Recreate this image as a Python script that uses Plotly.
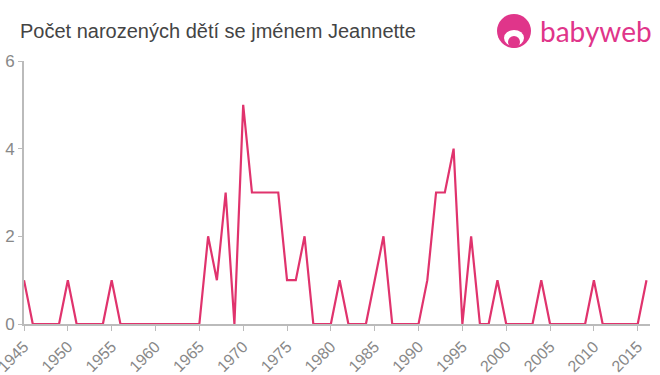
import plotly.graph_objects as go

years = list(range(1945, 2017))
counts = [1, 0, 0, 0, 0, 1, 0, 0, 0, 0,   # 1945-1954
          1, 0, 0, 0, 0, 0, 0, 0, 0, 0,   # 1955-1964
          0, 2, 1, 3, 0, 5, 3, 3, 3, 3,   # 1965-1974
          1, 1, 2, 0, 0, 0, 1, 0, 0, 0,   # 1975-1984
          1, 2, 0, 0, 0, 0, 1, 3, 3, 4,   # 1985-1994
          0, 2, 0, 0, 1, 0, 0, 0, 0, 1,   # 1995-2004
          0, 0, 0, 0, 0, 1, 0, 0, 0, 0,   # 2005-2014
          0, 1]                            # 2015-2016
tick_vals = list(range(1945, 2016, 5))
y_ticks = [0, 2, 4, 6]
title = "Počet narozených dětí se jménem Jeannette"

fig = go.Figure()
fig.add_trace(go.Scatter(x=years, y=counts, mode="lines",
                         line=dict(color="#e0336d", width=2.2),
                         hoverinfo="x+y", cliponaxis=False))

fig.update_layout(
    width=660, height=375,
    margin=dict(l=24, r=10, t=61, b=51, autoexpand=False),
    paper_bgcolor="white", plot_bgcolor="white",
    showlegend=False,
    font=dict(family="Liberation Sans, Arial, sans-serif"),
    title=dict(text=title, xref="container", x=20/660, xanchor="left",
               yref="container", y=1-31/375, yanchor="middle",
               pad=dict(l=0, r=0, t=0, b=0),
               font=dict(size=20, color="#444444")),
    xaxis=dict(range=[1945, 2016.4], tickvals=tick_vals, tickangle=-45,
               showgrid=False, zeroline=False, automargin=False,
               ticklabeloverflow="allow",
               showline=True, linecolor="#bbbbbb", linewidth=2,
               ticks="outside", ticklen=5, tickcolor="#bbbbbb", tickwidth=1,
               tickfont=dict(size=16, color="#888888")),
    yaxis=dict(range=[0, 6], tickvals=y_ticks,
               showgrid=False, zeroline=False, automargin=False,
               showline=True, linecolor="#bbbbbb", linewidth=2,
               ticks="outside", ticklen=4, tickcolor="#bbbbbb", tickwidth=1,
               tickfont=dict(size=17, color="#888888")),
)

# logo
pink = "#e0358a"
fig.add_shape(type="circle", xref="paper", yref="paper",
              x0=(497-24)/626, x1=(531-24)/626,
              y0=(324-48)/263, y1=(324-14)/263,
              fillcolor=pink, line=dict(width=0), layer="above")
fig.add_shape(type="circle", xref="paper", yref="paper",
              x0=(504-24)/626, x1=(524-24)/626,
              y0=(324-46)/263, y1=(324-30)/263,
              fillcolor="white", line=dict(width=0), layer="above")
fig.add_shape(type="circle", xref="paper", yref="paper",
              x0=(508-24)/626, x1=(520-24)/626,
              y0=(324-48)/263, y1=(324-36)/263,
              fillcolor=pink, line=dict(width=0), layer="above")
fig.add_annotation(text="babyweb", xref="paper", yref="paper",
                   x=(538-24)/626, y=(324-31)/263, xanchor="left", yanchor="middle",
                   showarrow=False, font=dict(size=28, color=pink, family="Lato, sans-serif"))

fig.write_html("out.html", config={"displayModeBar": False},
               post_script="document.body.style.margin='0';document.body.style.overflow='hidden';")
